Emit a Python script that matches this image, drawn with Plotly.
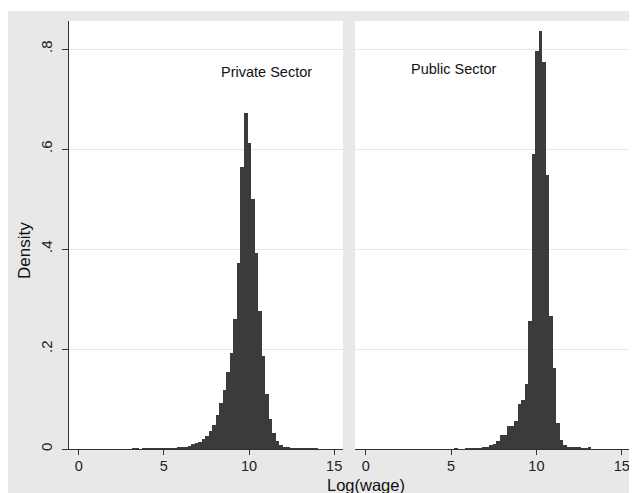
import numpy as np
import plotly.graph_objects as go

# ---- data ----
bin_width = 0.206
private_start = 3.114
private_density = [0.001, 0.001, 0.0, 0.0005, 0.001, 0.001, 0.001, 0.001, 0.0005, 0.0005,
                   0.001, 0.0015, 0.002, 0.0025, 0.003, 0.005, 0.007, 0.0095, 0.012, 0.015,
                   0.0195, 0.026, 0.036, 0.049, 0.069, 0.093, 0.119, 0.155, 0.193, 0.260,
                   0.373, 0.565, 0.672, 0.612, 0.501, 0.392, 0.277, 0.187, 0.111, 0.060,
                   0.032, 0.017, 0.009, 0.005, 0.003, 0.002, 0.002, 0.0015, 0.001, 0.001,
                   0.0008, 0.0015, 0.0015]
public_start = 5.19
public_density = [0.0015, 0.0, 0.0, 0.0005, 0.0008, 0.001, 0.001, 0.0015, 0.003, 0.005,
                  0.0086, 0.011, 0.017, 0.029, 0.029, 0.047, 0.047, 0.057, 0.090, 0.099,
                  0.130, 0.257, 0.590, 0.797, 0.837, 0.775, 0.549, 0.267, 0.162, 0.053,
                  0.018, 0.008, 0.004, 0.004, 0.003, 0.003, 0.002, 0.001, 0.003]
panel_titles = ["Private Sector", "Public Sector"]
x_ticks = [0, 5, 10, 15]
y_ticks = [0, 0.2, 0.4, 0.6, 0.8]
y_tick_labels = ["0", ".2", ".4", ".6", ".8"]
x_title = "Log(wage)"
y_title = "Density"

def centers(start, n):
    return start + bin_width * (np.arange(n) + 0.5)

BAR = "#3b3b3b"
BG = "#e8e8e8"
AX = "#333333"
FONT = "Liberation Sans, Arial, sans-serif"

fig = go.Figure()
fig.add_trace(go.Bar(x=centers(private_start, len(private_density)), y=private_density,
                     width=bin_width, marker=dict(color=BAR, line=dict(width=0)),
                     xaxis="x", yaxis="y", showlegend=False))
fig.add_trace(go.Bar(x=centers(public_start, len(public_density)), y=public_density,
                     width=bin_width, marker=dict(color=BAR, line=dict(width=0)),
                     xaxis="x2", yaxis="y2", showlegend=False))

xcommon = dict(tickmode="array", tickvals=x_ticks, ticks="outside", ticklen=5,
               tickcolor=AX, showline=True, linecolor=AX, linewidth=1,
               showgrid=False, zeroline=False, ticklabelstandoff=-1,
               tickfont=dict(size=14.5, color="#222"))
ycommon = dict(range=[0, 0.856], tickmode="array", tickvals=y_ticks,
               showgrid=True, gridcolor="#e6e6e6", gridwidth=1, zeroline=False)

fig.update_layout(
    width=629, height=485,
    margin=dict(l=61, r=5, t=13, b=44),
    paper_bgcolor=BG, plot_bgcolor="white",
    bargap=0,
    font=dict(family=FONT, color="#222"),
    xaxis=dict(domain=[0, 0.4867], range=[-0.57, 15.52], anchor="y", **xcommon),
    xaxis2=dict(domain=[0.508, 1], range=[-0.627, 15.6], anchor="y2", **xcommon),
    yaxis=dict(anchor="x", ticktext=y_tick_labels, ticks="outside", ticklen=6,
               tickcolor=AX, showline=True, linecolor=AX, linewidth=1,
               tickangle=-90, ticklabelstandoff=4,
               tickfont=dict(size=15, color="#222"), **ycommon),
    yaxis2=dict(anchor="x2", showticklabels=False, ticks="", showline=False, **ycommon),
    shapes=[
        dict(type="rect", xref="paper", yref="paper", x0=-0.12, x1=1.02,
             y0=1.0234, y1=1.06, fillcolor="white", line=dict(width=0), layer="below"),
    ],
    annotations=[
        dict(text=panel_titles[0], x=11.0, y=0.755, xref="x", yref="y", showarrow=False,
             font=dict(size=14.5, color="#111")),
        dict(text=panel_titles[1], x=5.17, y=0.76, xref="x2", yref="y2", showarrow=False,
             font=dict(size=14.5, color="#111")),
        dict(text=x_title, x=0.5275, y=-0.0845, xref="paper", yref="paper",
             showarrow=False, xanchor="center", yanchor="middle",
             font=dict(size=16.5, color="#111")),
        dict(text=y_title, x=-0.0782, y=0.465, xref="paper", yref="paper",
             showarrow=False, xanchor="center", yanchor="middle", textangle=-90,
             font=dict(size=17, color="#111")),
    ],
)

fig.write_html("out.html")
